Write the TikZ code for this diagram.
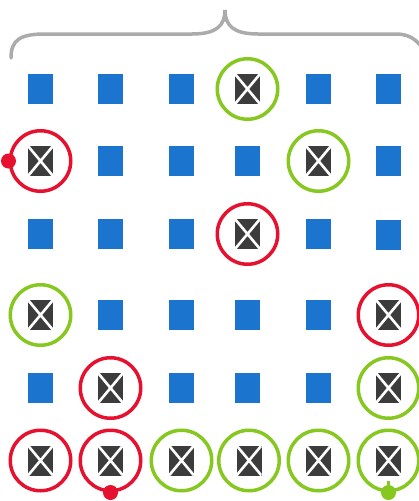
\documentclass[tikz,border=0pt]{standalone}
\definecolor{sqblue}{HTML}{1B75CF}
\definecolor{xred}{HTML}{E6102F}
\definecolor{xgreen}{HTML}{86C720}
\definecolor{xgray}{HTML}{3C3C3C}
\definecolor{bracegray}{HTML}{ABABAB}
\begin{document}
\begin{tikzpicture}[x=1pt,y=-1pt,
  sq/.style={rectangle,fill=sqblue,minimum width=25pt,minimum height=30pt,inner sep=0pt},
  xicon/.style={rectangle,fill=xgray,minimum width=25pt,minimum height=30pt,inner sep=0pt,
    path picture={\draw[white,line width=2.6pt]
      (path picture bounding box.north west) -- (path picture bounding box.south east)
      (path picture bounding box.north east) -- (path picture bounding box.south west);}},
  ring/.style={circle,draw,line width=3.5pt,minimum size=60.5pt,inner sep=0pt},
  redring/.style={ring,draw=xred},
  greenring/.style={ring,draw=xgreen},
  dot/.style={circle,inner sep=0pt,minimum size=15pt},
  brace/.style={draw=bracegray,line width=3.5pt,line cap=round}]
\useasboundingbox (0,0) rectangle (419,501);
\clip (0,0) rectangle (419,501);
% brace
\coordinate (bl) at (11,58);
\coordinate (bp) at (225,10);
\coordinate (br) at (430,62);
\draw[brace] (bl) .. controls (11,40) and (20,34) .. (45,34) -- (192,34)
  .. controls (216,34) and (225,26) .. (bp)
  .. controls (225,26) and (234,34) .. (258,34) -- (396,34)
  .. controls (412,34) and (421,42) .. (br);
% plain squares
\foreach \n/\x/\y in {
  s11/40.5/89, s12/110.5/89, s13/181.5/89, s15/318.5/89, s16/388.5/89,
  s22/110.5/161, s23/181.5/161, s24/247.5/161, s26/388.5/161,
  s31/40.5/234, s32/110.5/234, s33/181.5/234, s35/318.5/234, s36/388.5/235,
  s42/110.5/315, s43/181.5/315, s44/247.5/315, s45/318.5/315,
  s51/40.5/388, s53/181.5/388, s54/247.5/388, s55/318.5/388}
  \node[sq] (\n) at (\x,\y) {};
% red rings
\foreach \n/\x/\y in {
  21/40.5/161, 34/247.5/234, 46/388.5/315, 52/110.5/388, 61/40.5/460.5, 62/110.5/460.5}
  { \node[redring] (c\n) at (\x,\y) {};
    \node[xicon] (x\n) at (c\n) {}; }
% green rings
\foreach \n/\x/\y in {
  14/247.5/89, 25/318.5/161, 41/40.5/315, 56/388.5/388,
  63/181.5/460.5, 64/249/460.5, 65/318.5/460.5, 66/388.5/460.5}
  { \node[greenring] (c\n) at (\x,\y) {};
    \node[xicon] (x\n) at (c\n) {}; }
% dots
\node[dot,fill=xred] (d21) at (c21.west) {};
\node[dot,fill=xred] (d62) at (c62.south) {};
\node[dot,fill=xgreen] (d66) at (c66.south) {};
\coordinate (t66) at ([yshift=12pt]d66.center);
\draw[xgreen,line width=3pt] (d66) -- (t66);
\end{tikzpicture}
\end{document}
